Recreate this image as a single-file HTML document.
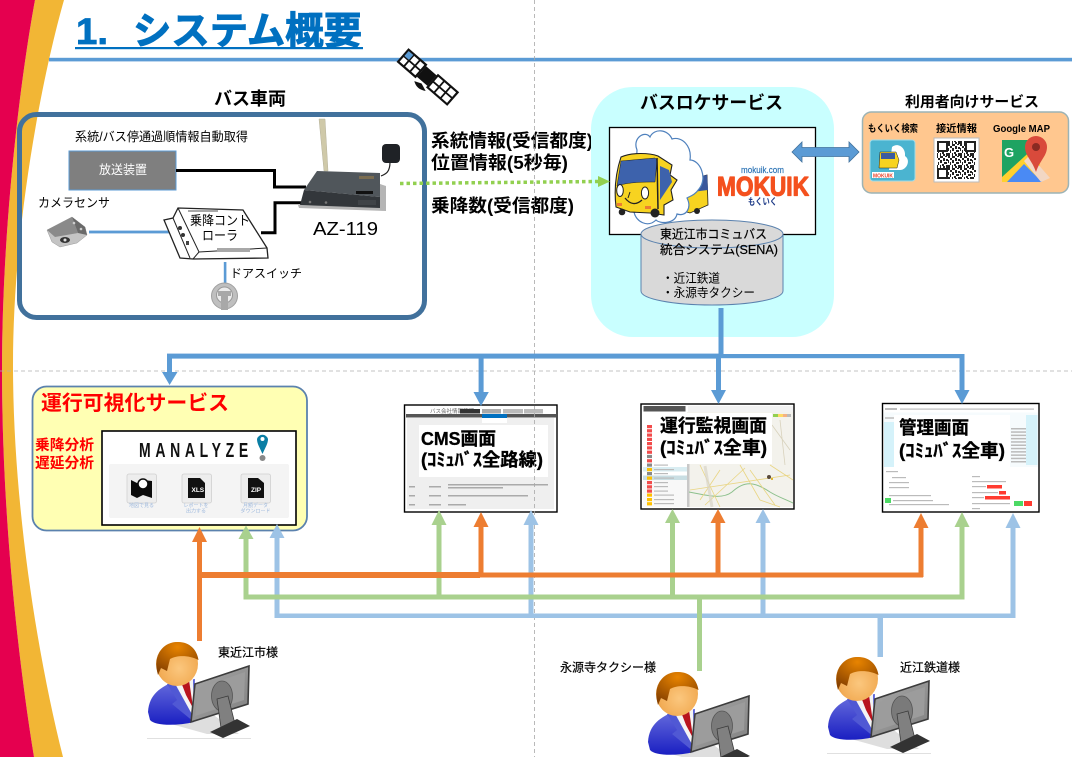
<!DOCTYPE html>
<html><head><meta charset="utf-8"><style>
html,body{margin:0;padding:0;background:#fff}
svg{display:block}
text{font-family:"Liberation Sans","Noto Sans CJK JP",sans-serif;fill:#000}
.b{font-weight:bold}
.cap{font-weight:bold;stroke:#000;stroke-width:.35px}
</style></head><body>
<svg xmlns="http://www.w3.org/2000/svg" width="1072" height="757" viewBox="0 0 1072 757">
<defs>
<radialGradient id="head" cx="0.55" cy="0.6" r="0.65"><stop offset="0" stop-color="#fbc77e"/><stop offset="0.7" stop-color="#f2ac55"/><stop offset="1" stop-color="#c87a20"/></radialGradient>
<radialGradient id="hair" cx="0.5" cy="0.15" r="0.8"><stop offset="0" stop-color="#e88400"/><stop offset="1" stop-color="#8a4300"/></radialGradient>
<linearGradient id="suit" x1="0" y1="0" x2="0" y2="1"><stop offset="0" stop-color="#6a70de"/><stop offset="1" stop-color="#1a1fc2"/></linearGradient>
<linearGradient id="mon" x1="0" y1="0" x2="1" y2="1"><stop offset="0" stop-color="#a8a8a8"/><stop offset="1" stop-color="#808080"/></linearGradient>
<pattern id="qr" width="12" height="12" patternUnits="userSpaceOnUse">
<rect width="12" height="12" fill="#fff"/>
<path d="M0 0h2v2H0zM4 0h3v2H4zM9 0h2v1H9zM2 2h2v2H2zM7 2h2v3H7zM10 3h2v2h-2zM0 4h1v3H0zM4 4h2v3H4zM2 6h1v3H2zM8 6h3v2H8zM6 8h2v2H6zM0 9h2v3H0zM4 9h1v3H4zM10 9h2v3h-2zM7 10h2v2H7z" fill="#222"/>
</pattern>
<symbol id="person" viewBox="0 0 104 96" width="104" height="96" overflow="visible">
<path d="M24 82 L60 92 L92 92 L60 68Z" fill="#dedede"/>
<path d="M1 70 C2 52 14 45 28 39 L48 37 L47 80 C30 84 8 84 3 78Z" fill="url(#suit)"/>
<path d="M20 42 L30 58 L25 62 L47 80 L47 38 Z" fill="#5058d4"/>
<path d="M26 38 L46 36 L47 76Z" fill="#f4f4f4"/>
<path d="M34 40 L42 38 L47 72 L47 68 L39 53Z" fill="#b8141e"/>
<ellipse cx="30" cy="22" rx="21" ry="22" fill="url(#head)"/>
<path d="M11 33 C5 12 17 0 31 0 C43 0 50 8 51.500 18 C42 13 30 13 23 17 L20 29 L14 26 Z" fill="url(#hair)"/>
<path d="M48 42 L102 24 L101 62 L44 80Z" fill="url(#mon)" stroke="#3c3c3c" stroke-width="1.6"/>
<path d="M52 46 L98 30 L97 58 L48 74Z" fill="#9c9c9c"/>
<ellipse cx="75" cy="54" rx="10.500" ry="15" fill="#7a7a7a" stroke="#555" stroke-width="0.8"/>
<path d="M70 57 L81 54 L88 82 L74 86Z" fill="#808080" stroke="#3c3c3c" stroke-width="0.8"/>
<path d="M63 90 L90 77 L103 84 L76 96Z" fill="#333"/>
<rect x="0" y="96" width="104" height="0.8" fill="#d8d8d8"/>
</symbol>
</defs>

<!-- side ribbon -->
<path d="M35 0 L64 0 C44 70 13 220 13 365 C13 500 36 650 63 757 L34 757 C15 640 2 500 2 370 C2 220 22 70 35 0Z" fill="#F2B635"/>
<path d="M0 0 L35 0 C22 70 2 220 2 370 C2 500 15 640 34 757 L0 757Z" fill="#E5004F"/>

<!-- title -->
<text x="76" y="44" class="b" font-size="37" style="fill:#0070C0;stroke:#0070C0;stroke-width:.8" textLength="32" lengthAdjust="spacingAndGlyphs">1.</text>
<text x="133" y="44" class="b" font-size="38" style="fill:#0070C0;stroke:#0070C0;stroke-width:1" textLength="229" lengthAdjust="spacingAndGlyphs">システム概要</text>
<rect x="75" y="47" width="288" height="2.200" fill="#0070C0"/>
<rect x="49" y="57.800" width="1023" height="3.600" fill="#5B9BD5"/>

<!-- satellite -->
<g transform="translate(429 78) rotate(41)">
<rect x="-34" y="-8" width="23" height="16" fill="#fff" stroke="#111" stroke-width="2.200"/>
<path d="M-26.500 -8v16M-18.500 -8v16M-34 0h23" stroke="#111" stroke-width="1.800"/>
<rect x="-33" y="-7" width="6" height="6.500" fill="#5B9BD5"/>
<rect x="-10" y="-7" width="14" height="14" fill="#111"/>
<rect x="5" y="-8" width="26" height="16" fill="#fff" stroke="#111" stroke-width="2.200"/>
<path d="M13.500 -8v16M22 -8v16M5 0h26" stroke="#111" stroke-width="1.800"/>
<path d="M-9 12 Q-2 17 6 12 L-2 9Z" fill="#111"/>
</g>

<!-- bus vehicle -->
<text x="214" y="105" class="b" font-size="18" textLength="72" lengthAdjust="spacingAndGlyphs">バス車両</text>
<rect x="19.500" y="114.500" width="405" height="203" rx="17" fill="none" stroke="#41719C" stroke-width="5"/>
<text x="75" y="141" font-size="12.500" textLength="173" lengthAdjust="spacingAndGlyphs">系統/バス停通過順情報自動取得</text>
<rect x="69" y="151" width="107" height="39" fill="#7F7F7F" stroke="#5B9BD5" stroke-width="1"/>
<text x="99" y="174" font-size="12.500" style="fill:#fff" textLength="48" lengthAdjust="spacingAndGlyphs">放送装置</text>
<path d="M176 170.500H274.500V187H306" fill="none" stroke="#000" stroke-width="3"/>
<path d="M261 232.700H275V202.700H301" fill="none" stroke="#000" stroke-width="3"/>
<!-- device -->
<path d="M319 119 L325 119 L328 171 L324 171Z" fill="#cfc9a9" stroke="#b5b19a" stroke-width="0.5"/>
<path d="M390 162 C390 172 386 174 381 176" fill="none" stroke="#222" stroke-width="1.200"/>
<rect x="382" y="144" width="18" height="19" rx="4" fill="#1f2226"/>
<path d="M380 184 L386 186 L386 209 L380 209Z" fill="#b5b5b5"/>
<path d="M298 205 L386 207 L386 211 L299 208Z" fill="#b5b5b5"/>
<path d="M317 171 L380 173 L380 197 L304 190Z" fill="#50565b"/>
<path d="M304 190 L380 197 L380 208 L300 205Z" fill="#33373b"/>
<rect x="359" y="176" width="15" height="3" fill="#7a6c50"/>
<rect x="356" y="191" width="17" height="3" fill="#111"/>
<rect x="358" y="200" width="18" height="5" fill="#3f4347"/>
<circle cx="310" cy="202" r="1.300" fill="#777"/><circle cx="326" cy="202.500" r="1.300" fill="#777"/>
<text x="313" y="235" font-size="18" textLength="65" lengthAdjust="spacingAndGlyphs">AZ-119</text>
<!-- camera -->
<text x="38" y="207" font-size="12.500" textLength="72" lengthAdjust="spacingAndGlyphs">カメラセンサ</text>
<path d="M47 230 L72 217 L85 227 L87 235 L77 243 L60 247 L52 242Z" fill="#c4c4c4" stroke="#999" stroke-width="0.500"/>
<path d="M47 230 L72 217 L78 233 L55 237Z" fill="#8a8a8a"/>
<path d="M72 217 L85 227 L87 235 L78 233Z" fill="#6a6a6a"/>
<circle cx="74" cy="223" r="1.300" fill="#ccc"/><circle cx="81" cy="229" r="1.300" fill="#ccc"/>
<ellipse cx="65" cy="240" rx="5" ry="3" fill="#333"/><circle cx="65" cy="240" r="1.500" fill="#ddd"/>
<rect x="89" y="230.600" width="82" height="2.800" fill="#5B9BD5"/>
<!-- controller -->
<path d="M164 220 L173 218 L178 208 L243 210 L267 248 L268 258 L193 259 L180 258Z" fill="#fff" stroke="#222" stroke-width="1.300"/>
<path d="M178 208 L199 252 L267 248 M199 252 L193 259 M173 218 L190 258" fill="none" stroke="#222" stroke-width="1"/>
<rect x="217" y="248" width="33" height="4" fill="#a8a8a8"/>
<rect x="188" y="210" width="30" height="2" fill="#a8a8a8"/>
<circle cx="180" cy="228" r="2" fill="#333"/><circle cx="183" cy="235" r="2" fill="#333"/><rect x="186" y="241" width="3" height="4" fill="#444"/>
<text x="190" y="225" font-size="13" textLength="60" lengthAdjust="spacingAndGlyphs">乗降コント</text>
<text x="202" y="240" font-size="13" textLength="36" lengthAdjust="spacingAndGlyphs">ローラ</text>
<rect x="223.800" y="262" width="2.600" height="21" fill="#5B9BD5"/>
<text x="230" y="277.500" font-size="12" textLength="72" lengthAdjust="spacingAndGlyphs">ドアスイッチ</text>
<circle cx="224.500" cy="296" r="13" fill="#bfbfbf" stroke="#a0a0a0" stroke-width="1"/>
<circle cx="224.500" cy="295" r="8" fill="#ececec" stroke="#999" stroke-width="1"/>
<path d="M218 291 H231 V296 H228 V310 H221 V296 H218Z" fill="#a8a8a8"/>

<!-- info labels -->
<text x="431" y="147" class="b" font-size="18" textLength="162" lengthAdjust="spacingAndGlyphs">系統情報(受信都度)</text>
<text x="431" y="169" class="b" font-size="18" textLength="137" lengthAdjust="spacingAndGlyphs">位置情報(5秒毎)</text>
<text x="431" y="212" class="b" font-size="18" textLength="143" lengthAdjust="spacingAndGlyphs">乗降数(受信都度)</text>

<!-- bus location service -->
<rect x="591" y="87" width="243" height="250" rx="42" fill="#C9FFFF"/>
<line x1="400" y1="183.500" x2="598" y2="181.500" stroke="#92D050" stroke-width="3.500" stroke-dasharray="3.500 3"/>
<text x="640" y="109" class="b" font-size="18" textLength="143" lengthAdjust="spacingAndGlyphs">バスロケサービス</text>
<rect x="609.500" y="127.500" width="206" height="107" fill="#fff" stroke="#000" stroke-width="1.300"/>
<path d="M598 176 L610 181.500 L598 187Z" fill="#92D050"/>
<!-- small bus -->
<path d="M680 182 L707 175 L708 205 L690 213 L680 210Z" fill="#F7D320" stroke="#222" stroke-width="0.800"/>
<path d="M692 178 L707 175 L708 190 L692 192Z" fill="#39589c"/>
<circle cx="697" cy="211" r="3" fill="#222"/>
<!-- cloud -->
<path d="M637 150 C632 138 645 130 650 137 C654 128 668 129 672 139 C682 136 692 146 690 160 C700 160 708 178 699 189 C694 196 690 196 687 198 C692 208 686 217 677 214 C675 224 660 224 656 220 C648 228 636 222 634 212 Z" fill="#fff" stroke="#4F81BD" stroke-width="1.200"/>
<!-- main bus -->
<path d="M621 157 C632 152 650 153 658 156 L672 165 L670 175 L677 180 L671 190 L673 200 L664 205 L664 215 L650 213 L630 212 L616 207 C614 190 616 172 621 157Z" fill="#F7D320" stroke="#222" stroke-width="1.100"/>
<path d="M621 161 L655 158 L657 160 L655 182 C645 182 628 182 617 186Z" fill="#3D62AC" stroke="#222" stroke-width="0.500"/>
<path d="M660 166 L669 170 L672 182 L660 200Z" fill="#3D62AC"/>
<path d="M657 158 L658 209" stroke="#222" stroke-width="1.500"/>
<ellipse cx="620" cy="190.500" rx="3.300" ry="6" fill="#fff" stroke="#222"/>
<ellipse cx="645" cy="193" rx="3.600" ry="6" fill="#fff" stroke="#222"/>
<path d="M625 198 Q633 208 642 200" fill="none" stroke="#222" stroke-width="1.300"/>
<path d="M630 192 L628 198" stroke="#222"/>
<rect x="617" y="203" width="5" height="3" fill="#ed7d31"/><rect x="645" y="206" width="6" height="3" fill="#ed7d31"/>
<circle cx="622" cy="212" r="3.300" fill="#222"/><circle cx="655" cy="213" r="4.500" fill="#222"/>
<text x="741" y="173" font-size="9" style="fill:#2E75B6;stroke:#2E75B6;stroke-width:.2" textLength="43" lengthAdjust="spacingAndGlyphs">mokuik.com</text>
<text x="717" y="195.500" font-size="27" class="b" style="fill:#F4511E;stroke:#F4511E;stroke-width:1.200;stroke-linejoin:round" textLength="92" lengthAdjust="spacingAndGlyphs">MOKUIK</text>
<text x="748" y="205" font-size="9.500" class="b" style="fill:#1F3C88" textLength="29" lengthAdjust="spacingAndGlyphs">もくいく</text>
<!-- cylinder -->
<path d="M641 234 V291 C641 299 673 305 712 305 C751 305 783 299 783 291 V234Z" fill="#D9D9D9" stroke="#5B82AE" stroke-width="1"/>
<ellipse cx="712" cy="234" rx="71" ry="14" fill="#D9D9D9" stroke="#5B82AE" stroke-width="1"/>
<text x="660" y="238.500" font-size="12.500" style="stroke:#000;stroke-width:.2" textLength="107" lengthAdjust="spacingAndGlyphs">東近江市コミュバス</text>
<text x="660" y="254" font-size="12.500" style="stroke:#000;stroke-width:.2" textLength="118" lengthAdjust="spacingAndGlyphs">統合システム(SENA)</text>
<text x="662" y="282.500" font-size="12.500" textLength="58" lengthAdjust="spacingAndGlyphs">・近江鉄道</text>
<text x="662" y="297" font-size="12.500" textLength="93" lengthAdjust="spacingAndGlyphs">・永源寺タクシー</text>
<!-- double arrow -->
<path d="M792 152 L802 142 L802 147.500 L849 147.500 L849 142 L859 152 L849 162 L849 156.500 L802 156.500 L802 162Z" fill="#5B9BD5" stroke="#41719C" stroke-width="0.800"/>

<!-- user services -->
<text x="905" y="107" class="b" font-size="14.500" textLength="134" lengthAdjust="spacingAndGlyphs">利用者向けサービス</text>
<rect x="862.500" y="112" width="206" height="81" rx="9" fill="#FFC78F" stroke="#9CB3B5" stroke-width="1.500"/>
<text x="868" y="132" class="b" font-size="10" textLength="50" lengthAdjust="spacingAndGlyphs">もくいく検索</text>
<text x="936" y="132" class="b" font-size="10" textLength="41" lengthAdjust="spacingAndGlyphs">接近情報</text>
<text x="993" y="132" class="b" font-size="10" textLength="57" lengthAdjust="spacingAndGlyphs">Google MAP</text>
<rect x="870" y="140" width="45" height="41" rx="3" fill="#4BB4D0" stroke="#9fdcea"/>
<path d="M892 147 C898 142 906 148 905 156 C911 160 907 170 900 170 L889 170Z" fill="#fff"/>
<path d="M880 152 L896 152 L899 160 L897 168 L879 168Z" fill="#F7D320" stroke="#222" stroke-width="0.500"/>
<rect x="881" y="153" width="14" height="6" fill="#3A5BA0"/>
<rect x="872" y="172" width="22" height="6" fill="#fff"/>
<text x="873" y="177.500" font-size="5.500" class="b" style="fill:#E8412A" textLength="20" lengthAdjust="spacingAndGlyphs">MOKUIK</text>
<rect x="934" y="138" width="45" height="44" fill="#fff" stroke="#bbb" stroke-width="1"/>
<rect x="937" y="141" width="39" height="38" fill="url(#qr)"/>
<path d="M938 142h9v9h-9zM966 142h9v9h-9zM938 169h9v9h-9z" fill="#fff" stroke="#222" stroke-width="2"/>
<path d="M1002 140 H1040 V182 H1002Z" fill="#1EA362"/>
<path d="M1002 182 L1002 177 L1036 146 L1040 150 L1040 182Z" fill="#FFD02F"/>
<path d="M1007 182 L1024 164 L1042 182Z" fill="#4A8AF4"/>
<path d="M1024 161 L1030 155 L1050 178 L1041 182Z" fill="#F2D7C4"/>
<text x="1004" y="157" font-size="13" class="b" style="fill:#fff">G</text>
<path d="M1036 172 C1032 160 1025 156 1025 147 A11 11 0 0 1 1047 147 C1047 156 1040 160 1036 172Z" fill="#D94A3B"/>
<circle cx="1036" cy="147" r="4" fill="#8A2A22"/>

<!-- visualize -->
<rect x="32.500" y="386.500" width="274.500" height="144" rx="14" fill="#FFFFB3" stroke="#5B82AE" stroke-width="1.800"/>
<text x="41" y="410" class="b" font-size="20.500" style="fill:#FF0000" textLength="188" lengthAdjust="spacingAndGlyphs">運行可視化サービス</text>
<text x="35" y="450" class="b" font-size="14.500" style="fill:#FF0000" textLength="59" lengthAdjust="spacingAndGlyphs">乗降分析</text>
<text x="35" y="468" class="b" font-size="14.500" style="fill:#FF0000" textLength="59" lengthAdjust="spacingAndGlyphs">遅延分析</text>
<rect x="102" y="431" width="194" height="94" fill="#fff" stroke="#000" stroke-width="1.600"/>
<text transform="translate(139 457) scale(.7 1)" x="0" y="0" class="b" font-size="20" style="fill:#111" textLength="156" lengthAdjust="spacing">MANALYZE</text>
<path d="M262.500 454 C260 448 257 444 257 439 A5.700 5.700 0 0 1 268 439 C268 444 265 448 262.500 454Z" fill="#0A7EA4"/>
<circle cx="262.500" cy="439" r="2" fill="#fff"/><circle cx="262.500" cy="458" r="3" fill="#888"/>
<rect x="109" y="464" width="180" height="54" rx="2" fill="#F4F4F4"/>
<g fill="#EDEDED" stroke="#D0D0D0" stroke-width="0.800">
<rect x="127" y="474" width="29.500" height="29" rx="2"/><rect x="182" y="474" width="29.500" height="29" rx="2"/><rect x="241" y="474" width="29.500" height="29" rx="2"/>
</g>
<path d="M131 480 L137 483 L143 480 L152 481 V498 L143 495 L137 498 L131 495Z" fill="#0c0c0c"/>
<circle cx="143" cy="484" r="5" fill="#fff" stroke="#0c0c0c" stroke-width="1.500"/>
<path d="M188 478 H200 L205 483 V498 H188Z" fill="#111"/>
<path d="M248 478 H258 L264 483 V498 H248Z" fill="#111"/>
<text x="191.500" y="492" font-size="6.500" class="b" style="fill:#fff">XLS</text>
<text x="251" y="492" font-size="6.500" class="b" style="fill:#fff">ZIP</text>
<g font-size="5" text-anchor="middle">
<text x="141.500" y="507" style="fill:#9DB8DD">地図で見る</text>
<text x="196" y="507" style="fill:#9DB8DD">レポートを</text>
<text x="196" y="512.500" style="fill:#9DB8DD">出力する</text>
<text x="255.500" y="507" style="fill:#9DB8DD">月額データ</text>
<text x="255.500" y="512.500" style="fill:#9DB8DD">ダウンロード</text>
</g>

<!-- CMS -->
<rect x="404.500" y="405" width="152.500" height="107" fill="#fff" stroke="#000" stroke-width="1.400"/>
<rect x="406" y="414" width="150" height="3.500" fill="#555"/>
<rect x="407" y="418" width="147" height="91" fill="#EFEFEF"/>
<text x="430" y="413" font-size="5.500" style="fill:#666">バス会社情報管理</text>
<rect x="460" y="409" width="20" height="4.500" fill="#333"/><rect x="482" y="409" width="19" height="4.500" fill="#aaa"/><rect x="503" y="409" width="20" height="4.500" fill="#bbb"/><rect x="524" y="409" width="19" height="4.500" fill="#bbb"/>
<rect x="482" y="414" width="25" height="9" fill="#fff"/><rect x="482" y="414" width="25" height="4" fill="#0070C0"/>
<g fill="#aaa"><rect x="409" y="486" width="6" height="1.500"/><rect x="429" y="486" width="12" height="1.500"/><rect x="448" y="484" width="100" height="1.500"/><rect x="448" y="487" width="55" height="1.500"/>
<rect x="409" y="495" width="6" height="1.500"/><rect x="429" y="495" width="12" height="1.500"/><rect x="448" y="495" width="80" height="1.500"/>
<rect x="409" y="504" width="6" height="1.500"/><rect x="429" y="504" width="12" height="1.500"/><rect x="448" y="504" width="18" height="1.500"/></g>
<rect x="419" y="425" width="129" height="52" fill="#fff"/>
<text x="421" y="445" class="cap" font-size="18" textLength="75" lengthAdjust="spacingAndGlyphs">CMS画面</text>
<text x="421" y="466" class="cap" font-size="18" textLength="122" lengthAdjust="spacingAndGlyphs">(ｺﾐｭﾊﾞｽ全路線)</text>

<!-- Monitor -->
<rect x="641" y="404" width="153" height="105" fill="#fff" stroke="#000" stroke-width="1.400"/>
<rect x="643.500" y="406" width="42" height="5.500" fill="#555"/>
<rect x="688" y="406" width="105" height="6" fill="#F2F2F2"/>
<rect x="687" y="412" width="106" height="95" fill="#F3F2EC"/>
<rect x="687" y="464" width="2.500" height="43" fill="#c8c8c8"/>
<path d="M689 492 C705 495 722 500 732 492 C745 480 755 482 770 492 C778 497 785 499 793 503" fill="none" stroke="#8CC08C" stroke-width="1"/>
<path d="M700 465 L720 507 M740 465 L760 500 L780 507 M690 490 L790 475 M770 465 L793 480 M705 505 L745 468 M720 470 L700 500 M750 470 L775 505" fill="none" stroke="#E9D583" stroke-width="0.800"/>
<path d="M772 425 L790 450 M780 420 L785 465" fill="none" stroke="#d8d2bc" stroke-width="0.800"/>
<path d="M705 466 L712 507" stroke="#d9d5c8" stroke-width="3" opacity=".7"/>
<circle cx="769" cy="477" r="2" fill="#5a4a3a"/><circle cx="772" cy="479" r="1" fill="#d9a400"/>
<rect x="773" y="414" width="5" height="3" fill="#92D050"/><rect x="778" y="414" width="5" height="3" fill="#FFD966"/><rect x="783" y="414" width="4" height="3" fill="#F4B183"/><rect x="787" y="414" width="4" height="3" fill="#bbb"/>
<g fill="#F24B4B">
<rect x="647" y="425" width="5" height="3.200"/><rect x="647" y="429.200" width="5" height="3.200"/><rect x="647" y="433.500" width="5" height="3.200"/><rect x="647" y="437.800" width="5" height="3.200"/><rect x="647" y="442" width="5" height="3.200"/><rect x="647" y="446.300" width="5" height="3.200"/><rect x="647" y="450.600" width="5" height="3.200"/><rect x="647" y="459.200" width="5" height="3.200"/>
<rect x="647" y="485" width="5" height="3.200"/><rect x="647" y="489.300" width="5" height="3.200"/><rect x="647" y="480.800" width="5" height="3.200"/>
</g>
<rect x="647" y="454.900" width="5" height="3.200" fill="#888"/>
<rect x="643" y="467" width="44" height="4.500" fill="#D9EDF2"/><rect x="643" y="475.500" width="44" height="4.500" fill="#C9DEE3"/>
<rect x="643" y="480" width="44" height="27" fill="#F6F6F6" opacity=".8"/>
<g fill="#888"><rect x="647" y="463.500" width="5" height="3.200"/><rect x="647" y="472" width="5" height="3.200"/></g>
<g fill="#FFC000"><rect x="647" y="468" width="5" height="3.200"/><rect x="647" y="476.500" width="5" height="3.200"/><rect x="647" y="493.500" width="5" height="3.200"/><rect x="647" y="498" width="5" height="3.200"/><rect x="647" y="502.200" width="5" height="3.200"/></g>
<g fill="#F24B4B"><rect x="647" y="481" width="5" height="3.200"/><rect x="647" y="485.300" width="5" height="3.200"/><rect x="647" y="489.500" width="5" height="3.200"/></g>
<g fill="#bbb"><rect x="654" y="464.500" width="14" height="1.200"/><rect x="654" y="469" width="20" height="1.200"/><rect x="654" y="473" width="14" height="1.200"/><rect x="654" y="477.500" width="20" height="1.200"/><rect x="654" y="482" width="14" height="1.200"/><rect x="654" y="486" width="14" height="1.200"/><rect x="654" y="490.500" width="14" height="1.200"/><rect x="654" y="494.500" width="20" height="1.200"/><rect x="654" y="499" width="20" height="1.200"/><rect x="654" y="503" width="20" height="1.200"/></g>
<rect x="656" y="413" width="116" height="51" fill="#fff"/>
<text x="660" y="432" class="cap" font-size="18" textLength="107" lengthAdjust="spacingAndGlyphs">運行監視画面</text>
<text x="660" y="454" class="cap" font-size="18" textLength="107" lengthAdjust="spacingAndGlyphs">(ｺﾐｭﾊﾞｽ全車)</text>

<!-- Admin -->
<rect x="882.500" y="403.500" width="156.500" height="108.500" fill="#fff" stroke="#000" stroke-width="1.400"/>
<g fill="#bdbdbd"><rect x="885" y="408" width="12" height="2"/><rect x="900" y="408.500" width="134" height="1.200"/></g>
<rect x="884" y="412.500" width="154" height="54.500" fill="#F6FBFD"/>
<rect x="1026" y="415" width="11.500" height="50" fill="#D5F2FA"/>
<rect x="884" y="422" width="10" height="45" fill="#D5F2FA"/>
<rect x="885" y="417" width="9" height="2" fill="#ccc"/>
<g fill="#bbb">
<rect x="1011" y="428" width="15" height="1.500"/><rect x="1011" y="431.300" width="15" height="1.500"/><rect x="1011" y="434.600" width="15" height="1.500"/><rect x="1011" y="437.900" width="15" height="1.500"/><rect x="1011" y="441.200" width="15" height="1.500"/><rect x="1011" y="444.500" width="15" height="1.500"/><rect x="1011" y="447.800" width="15" height="1.500"/><rect x="1011" y="451.100" width="15" height="1.500"/><rect x="1011" y="454.400" width="15" height="1.500"/><rect x="1011" y="457.700" width="15" height="1.500"/><rect x="1011" y="461" width="15" height="1.500"/>
<rect x="886" y="471" width="12" height="1.200"/><rect x="892" y="477" width="14" height="1.200"/><rect x="889" y="482" width="20" height="1.200"/><rect x="889" y="487" width="20" height="1.200"/><rect x="889" y="495" width="42" height="1.200"/><rect x="893" y="500" width="40" height="1.200"/><rect x="889" y="504" width="60" height="1.200"/>
<rect x="972" y="476" width="8" height="1.200"/><rect x="972" y="481" width="34" height="1.200"/><rect x="972" y="486" width="14" height="1.200"/><rect x="972" y="492" width="26" height="1.200"/><rect x="972" y="497" width="12" height="1.200"/><rect x="972" y="503" width="38" height="1.200"/><rect x="972" y="508" width="8" height="1.200"/>
</g>
<rect x="885" y="498" width="6" height="5" fill="#4CD964"/>
<rect x="987" y="485" width="15" height="3.500" fill="#FF3B30"/><rect x="999" y="491" width="7" height="3.500" fill="#FF3B30"/><rect x="985" y="496" width="25" height="3.500" fill="#FF3B30"/>
<rect x="1014" y="501" width="9" height="5" fill="#4CD964"/><rect x="1024" y="501" width="8" height="5" fill="#FF3B30"/>
<rect x="894" y="415" width="116" height="52" fill="#fff"/>
<text x="899" y="434" class="cap" font-size="18" textLength="70" lengthAdjust="spacingAndGlyphs">管理画面</text>
<text x="899" y="457" class="cap" font-size="18" textLength="106" lengthAdjust="spacingAndGlyphs">(ｺﾐｭﾊﾞｽ全車)</text>

<!-- guides -->
<line x1="534.500" y1="0" x2="534.500" y2="757" stroke="#a8a8a8" stroke-width="0.800" stroke-dasharray="4 3"/>
<line x1="0" y1="371" x2="1072" y2="371" stroke="#b0b0b0" stroke-width="0.800" stroke-dasharray="4 3"/>

<!-- distribution -->
<rect x="718.500" y="308" width="5" height="48" fill="#5B9BD5"/>
<rect x="167" y="353.600" width="554" height="5" fill="#5B9BD5"/>
<rect x="721" y="354" width="243.500" height="4.200" fill="#5B9BD5"/>
<g fill="#5B9BD5">
<rect x="167" y="356" width="5" height="17"/><path d="M162 372 H177.500 L169.600 385Z"/>
<rect x="478.600" y="356" width="5" height="37"/><path d="M473.500 392 H488.800 L481 406Z"/>
<rect x="716" y="356" width="5" height="35"/><path d="M711 390 H726 L718.500 404Z"/>
<rect x="959.500" y="356" width="5" height="35"/><path d="M954.500 390 H969.500 L962 404Z"/>
</g>

<!-- blue access lines -->
<g fill="#9DC3E6">
<rect x="274.500" y="613.500" width="738" height="4.500"/>
<rect x="274.500" y="537" width="5" height="81"/><path d="M269.500 538 H284.500 L277 524Z"/>
<rect x="528.500" y="524" width="5" height="94"/><path d="M523.500 525 H538.500 L531 510Z"/>
<rect x="760.500" y="522" width="5" height="96"/><path d="M755.500 523 H770.500 L763 509Z"/>
<rect x="1010.500" y="527" width="5" height="91"/><path d="M1005.500 528 H1020.500 L1013 513Z"/>
<rect x="877.500" y="616" width="5.500" height="41"/>
</g>
<!-- green access lines -->
<g fill="#A9D18E">
<rect x="243.500" y="594.500" width="721" height="5"/>
<rect x="243.500" y="538" width="5" height="61"/><path d="M238.500 539 H253.500 L246 525.500Z"/>
<rect x="436.500" y="524" width="5" height="75"/><path d="M431.500 525 H446.500 L439 510Z"/>
<rect x="670" y="522" width="5" height="77"/><path d="M665 523 H680 L672.500 509Z"/>
<rect x="959.500" y="526" width="5" height="73"/><path d="M954.500 527 H969.500 L962 512Z"/>
<rect x="697" y="596" width="5" height="75"/>
</g>
<!-- orange access lines -->
<g fill="#ED7D31">
<rect x="197" y="541" width="5" height="100"/><path d="M192 542 H207 L199.500 527Z"/>
<rect x="197" y="572" width="283" height="6"/>
<rect x="480" y="572.500" width="443" height="5"/>
<rect x="478.500" y="526" width="5" height="50"/><path d="M473.500 527 H488.500 L481 512Z"/>
<rect x="715.500" y="522" width="5" height="54"/><path d="M710.500 523 H725.500 L718 509Z"/>
<rect x="918.500" y="527" width="5" height="50"/><path d="M913.500 528 H928.500 L921 513Z"/>
</g>

<!-- people -->
<use href="#person" x="147" y="642"/>
<use href="#person" x="647" y="672"/>
<use href="#person" x="827" y="657"/>
<text x="218" y="656.500" font-size="12" style="stroke:#000;stroke-width:.2" textLength="60" lengthAdjust="spacingAndGlyphs">東近江市様</text>
<text x="560" y="671.500" font-size="12" style="stroke:#000;stroke-width:.2" textLength="96" lengthAdjust="spacingAndGlyphs">永源寺タクシー様</text>
<text x="900" y="671.500" font-size="12" style="stroke:#000;stroke-width:.2" textLength="60" lengthAdjust="spacingAndGlyphs">近江鉄道様</text>
</svg>
</body></html>
